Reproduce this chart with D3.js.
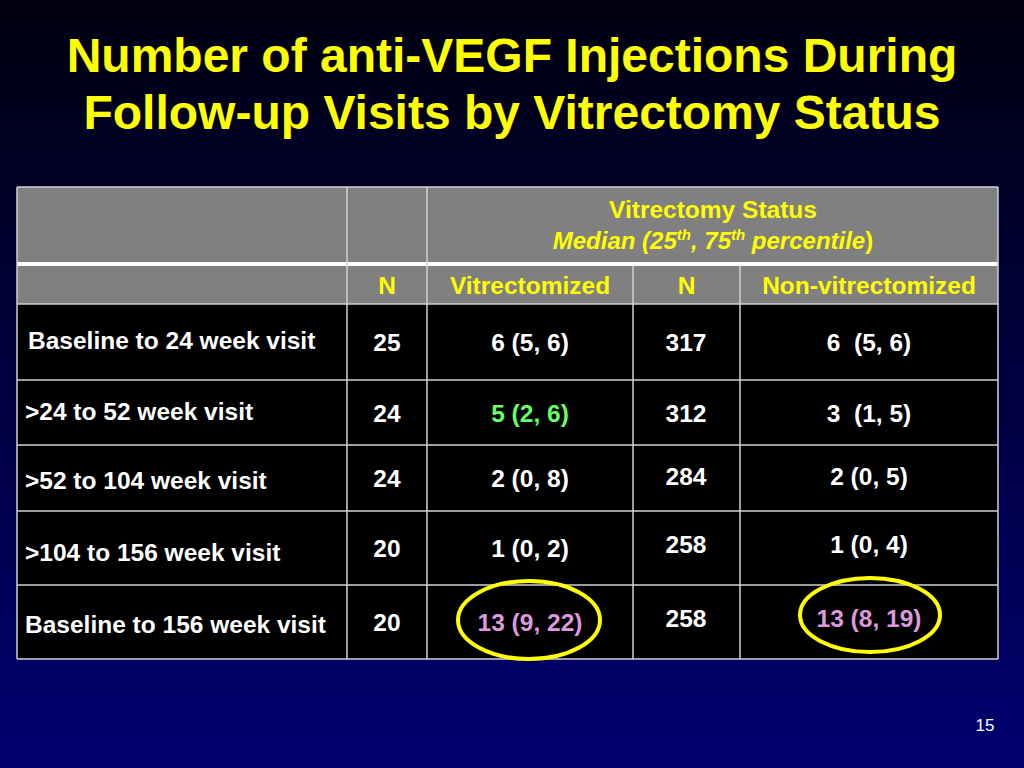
<!DOCTYPE html>
<html><head><meta charset="utf-8">
<script src="https://cdn.jsdelivr.net/npm/d3@7"></script>
<style>body{margin:0;}svg{display:block;}text{white-space:pre;}</style>
</head><body>
<script>
// Table content
var rowLabels = ["Baseline to 24 week visit", ">24 to 52 week visit", ">52 to 104 week visit", ">104 to 156 week visit", "Baseline to 156 week visit"];
var nVit = ["25", "24", "24", "20", "20"];
var vit = ["6 (5, 6)", "5 (2, 6)", "2 (0, 8)", "1 (0, 2)", "13 (9, 22)"];
var nNon = ["317", "312", "284", "258", "258"];
var non = ["6  (5, 6)", "3  (1, 5)", "2 (0, 5)", "1 (0, 4)", "13 (8, 19)"];
var colHeads = ["", "N", "Vitrectomized", "N", "Non-vitrectomized"];
var vitColour = ["white", "#66ff66", "white", "white", "#dd99dd"];
var nonColour = ["white", "white", "white", "white", "#dd99dd"];
var circled = [4];

var W = 1024, H = 768;
var colEdges = [17, 347, 427, 633, 740, 998];
var rowEdges = [304, 380, 445, 511, 585, 659];
// small vertical nudges seen in the slide
var labelDy = [-2, -2, 2, 4, 2];
var nonDy = [0, 0, -2, -4, -4];
var font = "'Liberation Sans', Arial, sans-serif";

var svg = d3.select("body").append("svg").attr("width", W).attr("height", H);
var grad = svg.append("defs").append("linearGradient").attr("id", "bg")
    .attr("x1", 0).attr("y1", 0).attr("x2", 0).attr("y2", 1);
grad.append("stop").attr("offset", "0%").attr("stop-color", "#000010");
grad.append("stop").attr("offset", "100%").attr("stop-color", "#000070");
svg.append("rect").attr("width", W).attr("height", H).attr("fill", "url(#bg)");

svg.append("text").attr("x", W / 2).attr("y", 72).attr("text-anchor", "middle")
    .attr("font-family", font).attr("font-weight", "bold").attr("font-size", 48).attr("fill", "#ffff00")
    .selectAll("tspan").data(["Number of anti-VEGF Injections During", "Follow-up Visits by Vitrectomy Status"])
    .join("tspan").attr("x", W / 2).attr("dy", function (d, i) { return i ? 57 : 0; }).text(function (d) { return d; });

// header rows
svg.append("rect").attr("x", 17).attr("y", 187).attr("width", 981).attr("height", 76).attr("fill", "#808080");
svg.append("rect").attr("x", 17).attr("y", 266).attr("width", 981).attr("height", 38).attr("fill", "#808080");
svg.append("rect").attr("x", 17).attr("y", 304).attr("width", 981).attr("height", 355).attr("fill", "#000");

var g = svg.append("g").attr("stroke", "#d0d0d0").attr("stroke-width", 1.5);
g.append("line").attr("x1", 17).attr("x2", 998).attr("y1", 187).attr("y2", 187);
g.append("line").attr("x1", 17).attr("x2", 998).attr("y1", 264).attr("y2", 264).attr("stroke", "#fff").attr("stroke-width", 4);
rowEdges.forEach(function (y) { g.append("line").attr("x1", 17).attr("x2", 998).attr("y1", y).attr("y2", y); });
colEdges.forEach(function (x, i) {
    var top = (i === 3 || i === 4) ? 266 : 187;
    g.append("line").attr("x1", x).attr("x2", x).attr("y1", top).attr("y2", 659);
});

function txt(x, y, s, col, anchor) {
    return svg.append("text").attr("x", x).attr("y", y).attr("text-anchor", anchor || "middle")
        .attr("font-family", font).attr("font-weight", "bold").attr("font-size", 24.5).attr("fill", col).text(s);
}
txt(713, 218, "Vitrectomy Status", "#ffff00");
var m = svg.append("text").attr("x", 713).attr("y", 249).attr("text-anchor", "middle")
    .attr("font-family", font).attr("font-weight", "bold").attr("font-size", 24).attr("fill", "#ffff00");
m.append("tspan").attr("font-style", "italic").text("Median (25");
m.append("tspan").attr("font-style", "italic").attr("font-size", 15).attr("dy", -9).text("th");
m.append("tspan").attr("font-style", "italic").attr("dy", 9).text(", 75");
m.append("tspan").attr("font-style", "italic").attr("font-size", 15).attr("dy", -9).text("th");
m.append("tspan").attr("font-style", "italic").attr("dy", 9).text(" percentile");
m.append("tspan").text(")");

colHeads.forEach(function (h, i) {
    if (h) txt((colEdges[i] + colEdges[i + 1]) / 2, 294, h, "#ffff00");
});

rowLabels.forEach(function (lab, r) {
    var cy = (rowEdges[r] + rowEdges[r + 1]) / 2 + 9;
    txt(colEdges[0] + (r === 0 ? 11 : 8), cy + labelDy[r], lab, "white", "start");
    txt(387, cy, nVit[r], "white");
    txt(530, cy, vit[r], vitColour[r]);
    txt(686, cy + nonDy[r], nNon[r], "white");
    txt(869, cy + nonDy[r], non[r], nonColour[r]);
});

circled.forEach(function (r) {
    var cy = (rowEdges[r] + rowEdges[r + 1]) / 2;
    [[529, cy - 2, 71, 39], [870, cy - 7, 70, 37]].forEach(function (c) {
        svg.append("ellipse").attr("cx", c[0]).attr("cy", c[1]).attr("rx", c[2]).attr("ry", c[3])
            .attr("fill", "none").attr("stroke", "#ffff00").attr("stroke-width", 4);
    });
});

svg.append("text").attr("x", 985).attr("y", 731).attr("text-anchor", "middle")
    .attr("font-family", font).attr("font-size", 17).attr("fill", "white").text("15");
</script>
</body></html>
